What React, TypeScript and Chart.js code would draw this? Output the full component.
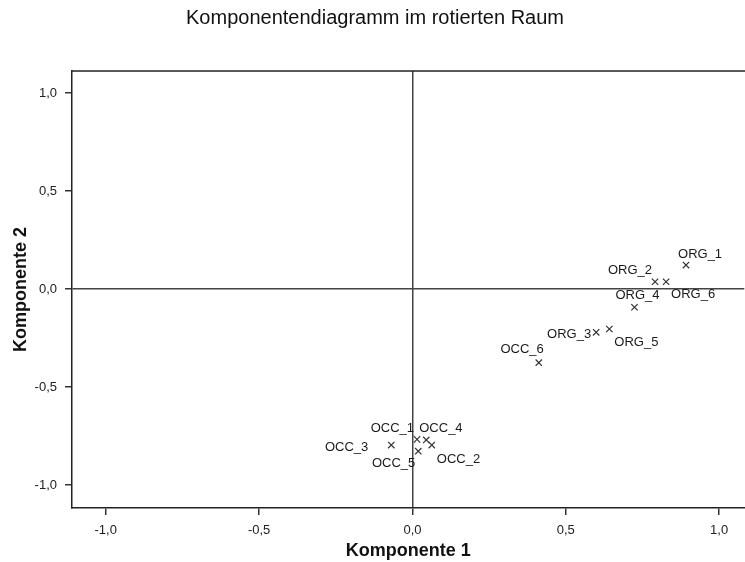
import React, { useEffect, useRef } from "react";
import { Chart, registerables } from "chart.js";

Chart.register(...registerables);

const TITLE = "Komponentendiagramm im rotierten Raum";
const X_TITLE = "Komponente 1";
const Y_TITLE = "Komponente 2";

const pointNames = [
  "ORG_1", "ORG_2", "ORG_6", "ORG_4", "ORG_3", "ORG_5",
  "OCC_6", "OCC_1", "OCC_4", "OCC_3", "OCC_2", "OCC_5",
];
const comp1 = [0.892, 0.791, 0.827, 0.724, 0.599, 0.642, 0.412, 0.015, 0.045, -0.069, 0.063, 0.019];
const comp2 = [0.122, 0.037, 0.037, -0.093, -0.221, -0.204, -0.376, -0.767, -0.770, -0.796, -0.796, -0.827];

const tickValues = [-1, -0.5, 0, 0.5, 1];
const tickLabels = ["-1,0", "-0,5", "0,0", "0,5", "1,0"];

// label placement (align, dx, dy) relative to each marker
const labelPlacement: [CanvasTextAlign, number, number][] = [
  ["left", -8, -11],
  ["right", -3, -11],
  ["left", 5, 13],
  ["center", 3, -12],
  ["right", -5, 2],
  ["left", 5, 13],
  ["right", 5, -13],
  ["right", -3, -11],
  ["left", -7, -12],
  ["right", -23, 2],
  ["left", 5, 14],
  ["right", -3, 12],
];

const FONT = "'Liberation Sans', Arial, sans-serif";

export default function App() {
  const ref = useRef<HTMLCanvasElement>(null);
  useEffect(() => {
    if (!ref.current) return;
    const labelsPlugin = {
      id: "pointLabels",
      afterDatasetsDraw(chart: any) {
        const ctx = chart.ctx;
        const meta = chart.getDatasetMeta(0);
        ctx.save();
        ctx.font = `13px ${FONT}`;
        ctx.fillStyle = "#1a1a1a";
        ctx.textBaseline = "middle";
        meta.data.forEach((el: any, i: number) => {
          const [align, dx, dy] = labelPlacement[i];
          ctx.textAlign = align;
          ctx.fillText(pointNames[i], el.x + dx, el.y + dy);
        });
        ctx.restore();
      },
    };
    const frame = {
      id: "frame",
      afterDraw(chart: any) {
        const { ctx, chartArea } = chart;
        ctx.save();
        ctx.strokeStyle = "#222";
        ctx.lineWidth = 1.5;
        ctx.beginPath();
        ctx.moveTo(chartArea.left, chartArea.top);
        ctx.lineTo(chartArea.right + 10, chartArea.top);
        ctx.stroke();
        ctx.restore();
      },
    };
    const gridCfg = {
      display: true,
      drawOnChartArea: true,
      color: (c: any) => (c.tick && c.tick.value === 0 ? "#444" : "rgba(0,0,0,0)"),
      lineWidth: 1.5,
      tickColor: "#333",
      tickLength: 7,
      tickWidth: 1.5,
    };
    const chart = new Chart(ref.current, {
      type: "scatter",
      data: {
        datasets: [
          {
            data: comp1.map((x, i) => ({ x, y: comp2[i] })),
            pointStyle: "crossRot",
            radius: 4.5,
            borderWidth: 1.2,
            borderColor: "#333",
            backgroundColor: "#333",
          },
        ],
      },
      options: {
        animation: false,
        responsive: false,
        layout: { padding: { left: 0, right: 0, top: 0, bottom: 0 } },
        plugins: {
          legend: { display: false },
          tooltip: { enabled: false },
          title: {
            display: true,
            text: TITLE,
            color: "#111",
            font: { family: FONT, size: 20, weight: "normal" },
            padding: { top: 6, bottom: 41 },
          },
        },
        scales: {
          x: {
            type: "linear",
            min: -1.11,
            max: 1.082,
            afterBuildTicks: (s: any) => {
              s.ticks = tickValues.map((v) => ({ value: v }));
            },
            afterFit: (s: any) => {
              s.height = 54;
            },
            ticks: {
              callback: (v: any) => tickLabels[tickValues.indexOf(Number(v))] ?? "",
              color: "#222",
              font: { family: FONT, size: 13 },
              padding: 8,
              maxRotation: 0,
            },
            grid: gridCfg,
            border: { display: true, color: "#222", width: 1.5 },
            title: {
              display: true,
              text: X_TITLE,
              color: "#111",
              font: { family: FONT, size: 18, weight: "bold" },
              padding: { top: 0, bottom: 0 },
            },
          },
          y: {
            type: "linear",
            min: -1.117,
            max: 1.112,
            afterBuildTicks: (s: any) => {
              s.ticks = tickValues.map((v) => ({ value: v }));
            },
            afterFit: (s: any) => {
              s.width = 72;
            },
            ticks: {
              callback: (v: any) => tickLabels[tickValues.indexOf(Number(v))] ?? "",
              color: "#222",
              font: { family: FONT, size: 13 },
              padding: 8,
            },
            grid: gridCfg,
            border: { display: true, color: "#222", width: 1.5 },
            title: {
              display: true,
              text: Y_TITLE,
              color: "#111",
              font: { family: FONT, size: 18, weight: "bold" },
              padding: { top: 10, bottom: 0 },
            },
          },
        },
      },
      plugins: [labelsPlugin, frame],
    } as any);
    return () => chart.destroy();
  }, []);
  return (
    <div style={{ position: "absolute", left: 0, top: 0, width: 745, height: 562, overflow: "hidden", background: "#fff" }}>
      <canvas ref={ref} width={750} height={562} />
    </div>
  );
}
